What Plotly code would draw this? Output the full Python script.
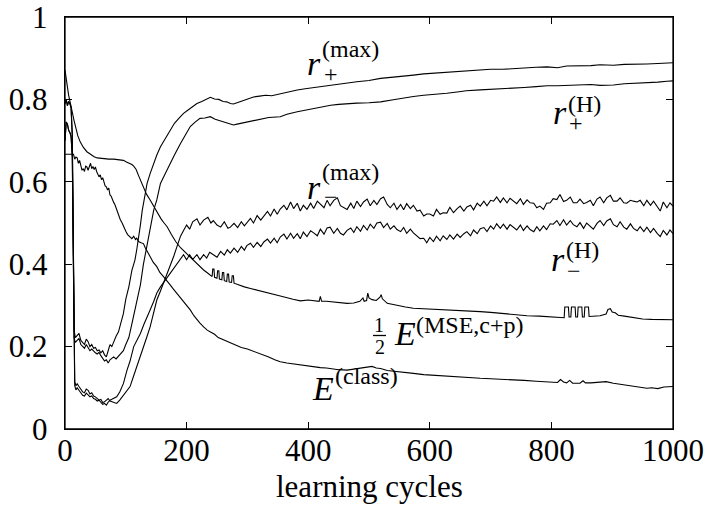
import plotly.graph_objects as go

# ---------------- data (learning cycles, value) ----------------
R_PLUS_MAX = [(0,0.79),(2,0.80),(4,0.785),(6,0.795),(8,0.79),(10,0.78),(12,0.72),(13,0.55),(14,0.35),(15,0.24),
(17,0.222),(20,0.226),(23,0.232),(26,0.215),(29,0.21),(32,0.205),(35,0.218),(38,0.212),(41,0.20),(44,0.205),
(47,0.196),(50,0.198),(53,0.19),(56,0.192),(59,0.185),(62,0.19),(65,0.18),(68,0.175),(71,0.19),(74,0.205),
(77,0.20),(80,0.212),(84,0.225),(88,0.236),(92,0.255),(96,0.28),(100,0.315),(105,0.345),(110,0.385),(115,0.41),
(118,0.435),(121,0.46),(124,0.495),(127,0.53),(131,0.565),(135,0.596),(140,0.62),(146,0.645),(151,0.665),(157,0.685),
(165,0.705),(173,0.726),(180,0.742),(188,0.755),(195,0.766),(203,0.775),(210,0.782),(217,0.79),(225,0.795),(232,0.80),
(239,0.805),(246,0.801),(253,0.80),(260,0.795),(266,0.794),(272,0.79),(277,0.789),(283,0.792),(290,0.796),(300,0.80),
(310,0.806),(320,0.808),(330,0.81),(340,0.809),(354,0.814),(365,0.817),(382,0.823),(395,0.826),(409,0.829),(420,0.83),
(437,0.835),(450,0.838),(464,0.84),(480,0.843),(500,0.846),(519,0.851),(540,0.854),(560,0.856),(573,0.859),(590,0.862),
(610,0.864),(628,0.867),(645,0.868),(660,0.87),(683,0.871),(700,0.873),(720,0.873),(738,0.875),(755,0.876),(775,0.878),
(793,0.879),(810,0.877),(825,0.881),(847,0.881),(865,0.882),(880,0.884),(902,0.883),(920,0.885),(940,0.885),(957,0.886),
(975,0.887),(990,0.888),(1000,0.889)]

R_PLUS_H = [(0,0.70),(2,0.745),(4,0.74),(6,0.725),(8,0.72),(10,0.71),(12,0.66),(13,0.50),(14,0.33),(15,0.22),
(17,0.21),(20,0.215),(23,0.22),(26,0.205),(29,0.20),(32,0.196),(35,0.205),(38,0.198),(41,0.19),(44,0.194),
(47,0.188),(50,0.185),(53,0.182),(56,0.186),(59,0.178),(62,0.17),(65,0.165),(68,0.168),(71,0.16),(74,0.168),
(77,0.172),(80,0.175),(84,0.17),(88,0.177),(92,0.182),(96,0.19),(100,0.205),(105,0.222),(110,0.255),(113,0.275),
(117,0.30),(121,0.33),(124,0.35),(129,0.40),(135,0.45),(140,0.49),(146,0.532),(151,0.556),(157,0.596),(165,0.62),
(173,0.645),(180,0.665),(190,0.693),(198,0.715),(206,0.734),(214,0.745),(222,0.754),(230,0.755),(239,0.758),(247,0.752),
(255,0.748),(263,0.744),(270,0.74),(277,0.738),(283,0.74),(290,0.742),(300,0.745),(310,0.749),(320,0.752),(335,0.756),
(354,0.758),(365,0.764),(382,0.77),(395,0.774),(409,0.778),(420,0.781),(437,0.786),(450,0.788),(464,0.79),(480,0.791),
(500,0.792),(519,0.794),(540,0.799),(555,0.803),(573,0.807),(590,0.81),(610,0.812),(628,0.815),(645,0.818),(660,0.821),
(683,0.823),(700,0.824),(720,0.826),(738,0.827),(755,0.829),(775,0.831),(793,0.833),(810,0.833),(825,0.834),(847,0.835),
(865,0.836),(880,0.834),(902,0.835),(920,0.838),(940,0.839),(957,0.841),(975,0.842),(990,0.844),(1000,0.845)]

R_MINUS_MAX = [(0,0.79),(2,0.80),(4,0.785),(6,0.795),(8,0.79),(10,0.78),(12,0.70),(13,0.50),(14,0.30),(15,0.14),
(16,0.115),(18,0.105),(20,0.11),(23,0.103),(26,0.095),(29,0.09),(32,0.088),(35,0.097),(38,0.094),(41,0.085),
(44,0.088),(47,0.08),(50,0.078),(53,0.075),(56,0.07),(59,0.072),(62,0.064),(65,0.066),(68,0.07),(71,0.074),
(74,0.068),(77,0.066),(80,0.064),(85,0.062),(90,0.07),(95,0.08),(100,0.09),(107,0.103),(112,0.125),(118,0.15),
(124,0.175),(130,0.20),(135,0.225),(140,0.248),(146,0.28),(151,0.313),(157,0.335),(162,0.354),(168,0.375),(173,0.394),
(179,0.42),(184,0.442),(190,0.468),(195,0.482),(200,0.495),(205,0.485),(210,0.503),(217,0.51),(222,0.495),(228,0.507),
(235,0.514),(240,0.5),(244,0.506),(250,0.495),(256,0.49),(262,0.503),(268,0.487),(272,0.49),(278,0.499),(284,0.489),
(290,0.503),(295,0.493),(299,0.5),(305,0.511),(310,0.5),(316,0.518),(322,0.507),(327,0.518),(333,0.528),(338,0.517),
(344,0.534),(349,0.521),(354,0.534),(360,0.543),(365,0.532),(371,0.551),(376,0.535),(382,0.548),(387,0.529),(392,0.543),
(398,0.533),(404,0.548),(409,0.535),(415,0.553),(420,0.546),(426,0.537),(431,0.555),(436,0.542),(442,0.555),(448,0.561),
(453,0.542),(458,0.538),(464,0.533),(470,0.548),(475,0.535),(480,0.553),(486,0.54),(491,0.551),(497,0.558),(502,0.542),
(508,0.555),(513,0.545),(519,0.559),(524,0.563),(530,0.545),(535,0.537),(541,0.548),(546,0.533),(552,0.545),(557,0.532),
(562,0.547),(568,0.535),(573,0.543),(579,0.529),(584,0.531),(590,0.517),(595,0.522),(600,0.522),(606,0.517),(611,0.533),
(617,0.521),(622,0.525),(628,0.524),(633,0.538),(639,0.525),(645,0.535),(650,0.541),(656,0.529),(661,0.539),(667,0.543),
(672,0.532),(678,0.548),(683,0.541),(689,0.553),(694,0.542),(700,0.555),(705,0.553),(710,0.563),(716,0.55),(721,0.561),
(727,0.549),(732,0.56),(738,0.553),(743,0.547),(749,0.559),(754,0.545),(760,0.556),(765,0.549),(771,0.548),(776,0.537),
(781,0.541),(787,0.533),(792,0.548),(798,0.549),(803,0.559),(809,0.557),(814,0.569),(820,0.552),(825,0.555),(831,0.563),
(836,0.549),(842,0.549),(847,0.558),(853,0.547),(858,0.55),(864,0.555),(869,0.542),(875,0.558),(880,0.563),(886,0.549),
(891,0.561),(897,0.567),(902,0.553),(908,0.553),(913,0.561),(919,0.549),(924,0.548),(930,0.555),(935,0.553),(941,0.551),
(946,0.555),(952,0.542),(957,0.555),(963,0.543),(968,0.553),(974,0.541),(979,0.529),(984,0.551),(990,0.537),(995,0.549),
(1000,0.541)]

R_MINUS_H = [(0,0.70),(2,0.745),(4,0.74),(6,0.725),(8,0.72),(10,0.71),(12,0.66),(13,0.48),(14,0.28),(15,0.13),
(16,0.105),(18,0.095),(20,0.10),(23,0.094),(26,0.088),(29,0.082),(32,0.08),(35,0.087),(38,0.083),(41,0.078),
(44,0.08),(47,0.074),(50,0.072),(53,0.068),(56,0.07),(59,0.066),(62,0.06),(65,0.062),(68,0.058),(71,0.065),
(74,0.07),(77,0.072),(80,0.075),(85,0.078),(90,0.09),(96,0.11),(102,0.143),(107,0.165),(113,0.20),(118,0.215),
(124,0.232),(130,0.255),(135,0.27),(140,0.289),(146,0.31),(151,0.33),(157,0.345),(162,0.355),(168,0.37),(173,0.38),
(179,0.39),(184,0.40),(190,0.412),(195,0.423),(200,0.411),(205,0.423),(210,0.412),(217,0.423),(222,0.411),(228,0.423),
(233,0.415),(238,0.429),(244,0.423),(250,0.417),(256,0.431),(262,0.422),(267,0.435),(272,0.427),(278,0.439),(284,0.429),
(290,0.443),(295,0.434),(299,0.445),(305,0.451),(310,0.441),(316,0.453),(322,0.443),(327,0.454),(333,0.461),(338,0.451),
(344,0.463),(349,0.452),(354,0.466),(360,0.473),(365,0.461),(371,0.475),(376,0.463),(382,0.474),(387,0.462),(392,0.478),
(398,0.467),(404,0.481),(409,0.476),(415,0.469),(420,0.485),(426,0.473),(431,0.488),(436,0.49),(442,0.475),(448,0.487),
(453,0.475),(458,0.471),(464,0.482),(470,0.488),(475,0.477),(480,0.491),(486,0.48),(491,0.494),(497,0.483),(502,0.497),
(508,0.487),(513,0.5),(519,0.502),(524,0.489),(530,0.499),(535,0.485),(541,0.493),(546,0.484),(552,0.479),(557,0.489),
(562,0.475),(568,0.485),(573,0.476),(579,0.467),(584,0.462),(590,0.463),(595,0.452),(600,0.465),(606,0.455),(611,0.468),
(617,0.457),(622,0.469),(628,0.46),(633,0.471),(639,0.461),(645,0.473),(650,0.465),(656,0.474),(661,0.479),(667,0.469),
(672,0.483),(678,0.474),(683,0.486),(689,0.489),(694,0.479),(700,0.493),(705,0.485),(710,0.498),(716,0.487),(721,0.497),
(727,0.485),(732,0.496),(738,0.488),(743,0.483),(749,0.495),(754,0.482),(760,0.493),(765,0.484),(771,0.479),(776,0.491),
(781,0.481),(787,0.493),(792,0.484),(798,0.498),(803,0.497),(809,0.506),(814,0.494),(820,0.508),(825,0.495),(831,0.506),
(836,0.496),(842,0.491),(847,0.501),(853,0.487),(858,0.5),(864,0.492),(869,0.485),(875,0.499),(880,0.506),(886,0.494),
(891,0.505),(897,0.51),(902,0.496),(908,0.491),(913,0.503),(919,0.49),(924,0.485),(930,0.498),(935,0.487),(941,0.481),
(946,0.491),(952,0.479),(957,0.49),(963,0.477),(968,0.487),(974,0.475),(979,0.467),(984,0.482),(990,0.471),(995,0.483),
(1000,0.474)]

HALF_MSE = [(0,0.871),(3,0.835),(6,0.81),(9,0.79),(12,0.765),(15,0.748),(18,0.73),(21,0.712),(25,0.697),(30,0.684),
(36,0.673),(42,0.666),(48,0.661),(53,0.658),(58,0.657),(65,0.656),(72,0.655),(80,0.655),(86,0.654),(91,0.654),
(96,0.652),(101,0.648),(106,0.645),(110,0.642),(113,0.638),(117,0.63),(121,0.615),(125,0.60),(129,0.588),(134,0.57),
(140,0.556),(146,0.54),(152,0.525),(158,0.51),(163,0.50),(168,0.491),(175,0.472),(182,0.455),(190,0.44),(200,0.426),
(210,0.41),(220,0.397),(228,0.386),(235,0.378),(240,0.372),(242,0.37),(243,0.388),(245,0.388),(246,0.368),(250,0.366),
(251,0.384),(253,0.384),(254,0.364),(258,0.362),(259,0.38),(261,0.38),(262,0.36),(266,0.358),(267,0.376),(269,0.376),
(270,0.357),(274,0.356),(275,0.372),(277,0.372),(278,0.354),(285,0.35),(295,0.345),(305,0.341),(320,0.335),(340,0.327),
(359,0.321),(375,0.315),(387,0.311),(400,0.313),(410,0.312),(418,0.31),(420,0.322),(422,0.31),(430,0.31),(440,0.308),
(450,0.306),(464,0.305),(475,0.306),(485,0.31),(490,0.318),(492,0.31),(496,0.312),(498,0.33),(500,0.318),(505,0.314),
(512,0.312),(518,0.32),(520,0.326),(522,0.316),(530,0.305),(540,0.302),(550,0.298),(560,0.296),(573,0.293),(590,0.292),
(610,0.29),(628,0.289),(650,0.288),(670,0.287),(683,0.285),(700,0.283),(720,0.28),(738,0.277),(760,0.275),(780,0.274),
(793,0.273),(810,0.271),(821,0.27),(822,0.296),(828,0.296),(829,0.272),(832,0.272),(833,0.296),(839,0.296),(840,0.272),
(843,0.272),(844,0.296),(850,0.296),(851,0.272),(854,0.272),(855,0.296),(861,0.296),(862,0.273),(870,0.274),(880,0.275),
(890,0.279),(893,0.29),(897,0.292),(900,0.284),(905,0.282),(910,0.276),(920,0.274),(935,0.27),(950,0.267),(965,0.266),
(980,0.265),(1000,0.265)]

E_CLASS = [(0,0.667),(5,0.667),(10,0.667),(14,0.667),(16,0.655),(18,0.66),(20,0.658),(22,0.645),(24,0.652),(26,0.64),
(28,0.628),(30,0.632),(32,0.625),(34,0.638),(36,0.636),(38,0.628),(40,0.64),(42,0.645),(44,0.632),(46,0.637),
(48,0.63),(50,0.636),(52,0.625),(54,0.62),(56,0.612),(58,0.617),(60,0.605),(62,0.61),(64,0.598),(66,0.59),
(68,0.588),(70,0.58),(72,0.585),(74,0.568),(76,0.565),(78,0.556),(80,0.55),(82,0.545),(85,0.532),(88,0.52),
(91,0.508),(94,0.5),(97,0.488),(100,0.48),(103,0.472),(107,0.467),(110,0.462),(113,0.468),(116,0.46),(118,0.463),
(121,0.455),(125,0.452),(129,0.45),(132,0.44),(136,0.43),(140,0.42),(145,0.405),(151,0.394),(156,0.38),(162,0.37),
(168,0.36),(173,0.35),(178,0.34),(184,0.329),(190,0.316),(196,0.305),(201,0.297),(206,0.289),(212,0.275),(217,0.265),
(222,0.257),(228,0.248),(234,0.24),(240,0.235),(246,0.23),(252,0.222),(258,0.218),(265,0.213),(272,0.209),(280,0.204),
(290,0.198),(300,0.194),(308,0.19),(316,0.185),(325,0.18),(335,0.175),(345,0.168),(354,0.163),(365,0.16),(375,0.158),
(387,0.155),(398,0.152),(409,0.151),(420,0.149),(430,0.148),(440,0.146),(450,0.144),(464,0.143),(475,0.145),(485,0.148),
(495,0.15),(505,0.152),(512,0.148),(519,0.147),(530,0.142),(545,0.14),(560,0.138),(573,0.135),(590,0.132),(610,0.13),
(628,0.127),(645,0.126),(660,0.125),(683,0.123),(700,0.122),(720,0.121),(738,0.119),(755,0.118),(775,0.116),(793,0.115),
(810,0.113),(815,0.12),(820,0.114),(825,0.112),(830,0.118),(835,0.111),(847,0.111),(852,0.117),(856,0.112),(865,0.112),
(880,0.114),(890,0.115),(902,0.111),(915,0.108),(930,0.105),(945,0.102),(957,0.099),(965,0.1),(975,0.098),(985,0.102),
(1000,0.103)]

X_TICKS = [0, 200, 400, 600, 800, 1000]
X_TICK_TEXT = ["0", "200", "400", "600", "800", "1000"]
Y_TICKS = [0, 0.2, 0.4, 0.6, 0.8, 1.0]
Y_TICK_TEXT = ["0", "0.2", "0.4", "0.6", "0.8", "1"]
X_TITLE = "learning cycles"

# ---------------- figure ----------------
SERIF = "Liberation Serif"
W, H = 707, 508
# plot area, in page pixels
PX0, PX1, PY1, PY0 = 65, 673, 17, 429

fig = go.Figure()
for series in (R_PLUS_MAX, R_PLUS_H, R_MINUS_MAX, R_MINUS_H, HALF_MSE, E_CLASS):
    xs, ys = zip(*series)
    fig.add_trace(go.Scatter(x=list(xs), y=list(ys), mode="lines",
                             line=dict(color="black", width=1.1), showlegend=False,
                             hoverinfo="skip"))

axis_common = dict(showline=True, linecolor="black", linewidth=1.3, mirror="ticks",
                   ticks="inside", ticklen=7, tickwidth=1, tickcolor="black",
                   showgrid=False, zeroline=False, automargin=False,
                   ticklabeloverflow="allow",
                   tickfont=dict(family=SERIF, size=31, color="black"))

fig.update_layout(
    width=W, height=H,
    margin=dict(l=PX0, r=W - PX1, t=PY1, b=H - PY0, autoexpand=False),
    paper_bgcolor="white", plot_bgcolor="white",
    xaxis=dict(range=[0, 1000], tickvals=X_TICKS, ticktext=X_TICK_TEXT,
               ticklabelstandoff=-7, **axis_common),
    yaxis=dict(range=[0, 1], tickvals=Y_TICKS, ticktext=Y_TICK_TEXT,
               ticklabelstandoff=10, **axis_common),
)

# frame around the plot area
fig.add_shape(type="rect", xref="paper", yref="paper", x0=0, x1=1, y0=0, y1=1,
              line=dict(color="black", width=1.3), layer="above")


def lab(text, cx, cy, size, dy_em=0.0):
    """place a text piece centred at page pixel (cx, cy)"""
    fig.add_annotation(x=(cx - PX0) / (PX1 - PX0),
                       y=(PY0 - (cy - dy_em * size)) / (PY0 - PY1),
                       xref="paper", yref="paper", text=text, showarrow=False,
                       xanchor="center", yanchor="middle",
                       font=dict(family=SERIF, size=size, color="black"))


# axis title
lab(X_TITLE, 369, 490, 31, 0.11)

BIG, SUP = 34, 24
# r_+^(max)
lab("<i>r</i>", 314, 67, BIG, 0.11)
lab("+", 331, 75, SUP, 0.06)
lab("(max)", 350, 51, SUP, 0.08)
# r_+^(H)
lab("<i>r</i>", 560, 116, BIG, 0.11)
lab("+", 576, 124, SUP, 0.06)
lab("(H)", 584, 106, SUP, 0.08)
# r_-^(max)
lab("<i>r</i>", 314, 191, BIG, 0.11)
lab("\u2212", 331, 198, SUP, 0.06)
lab("(max)", 350, 174, SUP, 0.08)
# r_-^(H)
lab("<i>r</i>", 558, 263, BIG, 0.11)
lab("\u2212", 574, 272, SUP, 0.06)
lab("(H)", 582, 252, SUP, 0.08)
# 1/2 E^(MSE,c+p)
lab("1", 379, 325, 20)
lab("2", 379.5, 347, 20)
fig.add_shape(type="line", xref="paper", yref="paper",
              x0=(373 - PX0) / (PX1 - PX0), x1=(386 - PX0) / (PX1 - PX0),
              y0=(PY0 - 335.5) / (PY0 - PY1), y1=(PY0 - 335.5) / (PY0 - PY1),
              line=dict(color="black", width=1.3))
lab("<i>E</i>", 405, 333, BIG)
lab("(MSE,c+p)", 470, 327, SUP, 0.08)
# E^(class)
lab("<i>E</i>", 323, 388, BIG)
lab("(class)", 366, 378, SUP, 0.08)

# the page body has a default 8px margin; remove it so the figure fills the window
fig.write_html("out.html",
               config={"displayModeBar": False, "staticPlot": True},
               post_script="document.body.style.margin='0';document.body.style.overflow='hidden';")
